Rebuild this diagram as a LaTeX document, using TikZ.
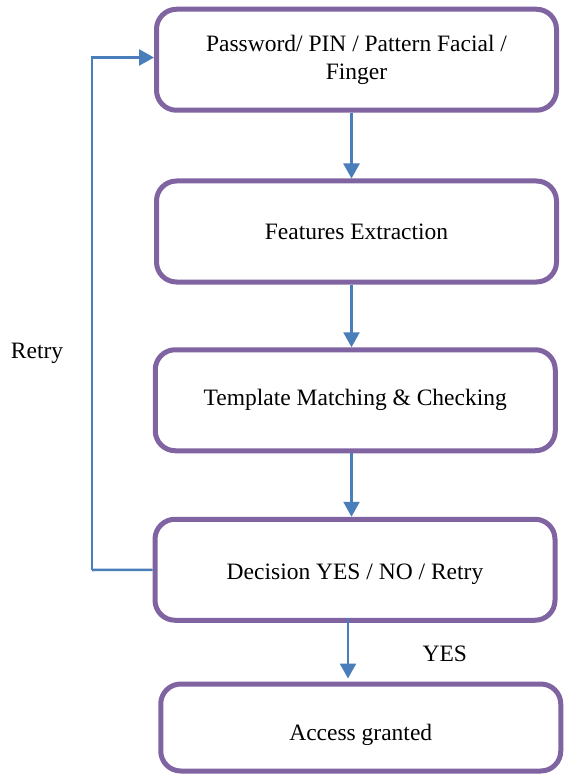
\documentclass[tikz,border=0pt]{standalone}
\usepackage{fontspec}
\setmainfont{Liberation Serif}
\usetikzlibrary{arrows.meta}
\definecolor{boxpurple}{HTML}{8064A2}
\definecolor{linkblue}{HTML}{4A7EBB}

\begin{document}
\begin{tikzpicture}[x=1pt,y=-1pt,
    paso/.style={draw=boxpurple,line width=5pt,rounded corners=20pt,
      minimum width=400pt,minimum height=101pt,align=center,
      font=\fontsize{23.5}{28}\selectfont},
    flecha/.style={draw=linkblue,line width=2.5pt,
      -{Triangle[length=15pt,width=16pt]}},
    rotulo/.style={font=\fontsize{23.5}{28}\selectfont}]
      \useasboundingbox (0,0) rectangle (563,775);
      % etapas
      \node[paso] (pin) at (356.5,59.75) {Password/ PIN / Pattern Facial /\\Finger};
      \node[paso,text height=22pt,text depth=5pt] (rasgos) at (356.5,231.5) {Features Extraction};
      \node[paso] (plantilla) at (355.25,400.25) {Template Matching \& Checking};
      \node[paso,text height=25pt,text depth=5pt] (decision) at (355,569.75) {Decision YES / NO / Retry};
      \node[paso,minimum height=87pt,text height=30pt,text depth=5pt] (acceso) at (360.75,727.5) {Access granted};
      % flujo
      \coordinate (eje) at (351.5,0);
      \coordinate (ejebajo) at (348,0);
      \draw[flecha] (pin.south -| eje) -- (rasgos.north -| eje);
      \draw[flecha] (rasgos.south -| eje) -- (plantilla.north -| eje);
      \draw[flecha] (plantilla.south -| eje) -- (decision.north -| eje);
      \draw[flecha] ([yshift=5pt]decision.south -| ejebajo) -- ([yshift=3pt]acceso.north -| ejebajo)
        node[pos=0.6,right=70pt,rotulo] (si) {YES};
      % reintento
      \coordinate (vuelta) at (92,570);
      \draw[flecha,-] (decision.west) -- (vuelta);
      \draw[flecha] (vuelta) |- ([yshift=2.25pt]pin.west);
      \node[rotulo] (retry) at (37,353) {Retry};
    \end{tikzpicture}
\end{document}
